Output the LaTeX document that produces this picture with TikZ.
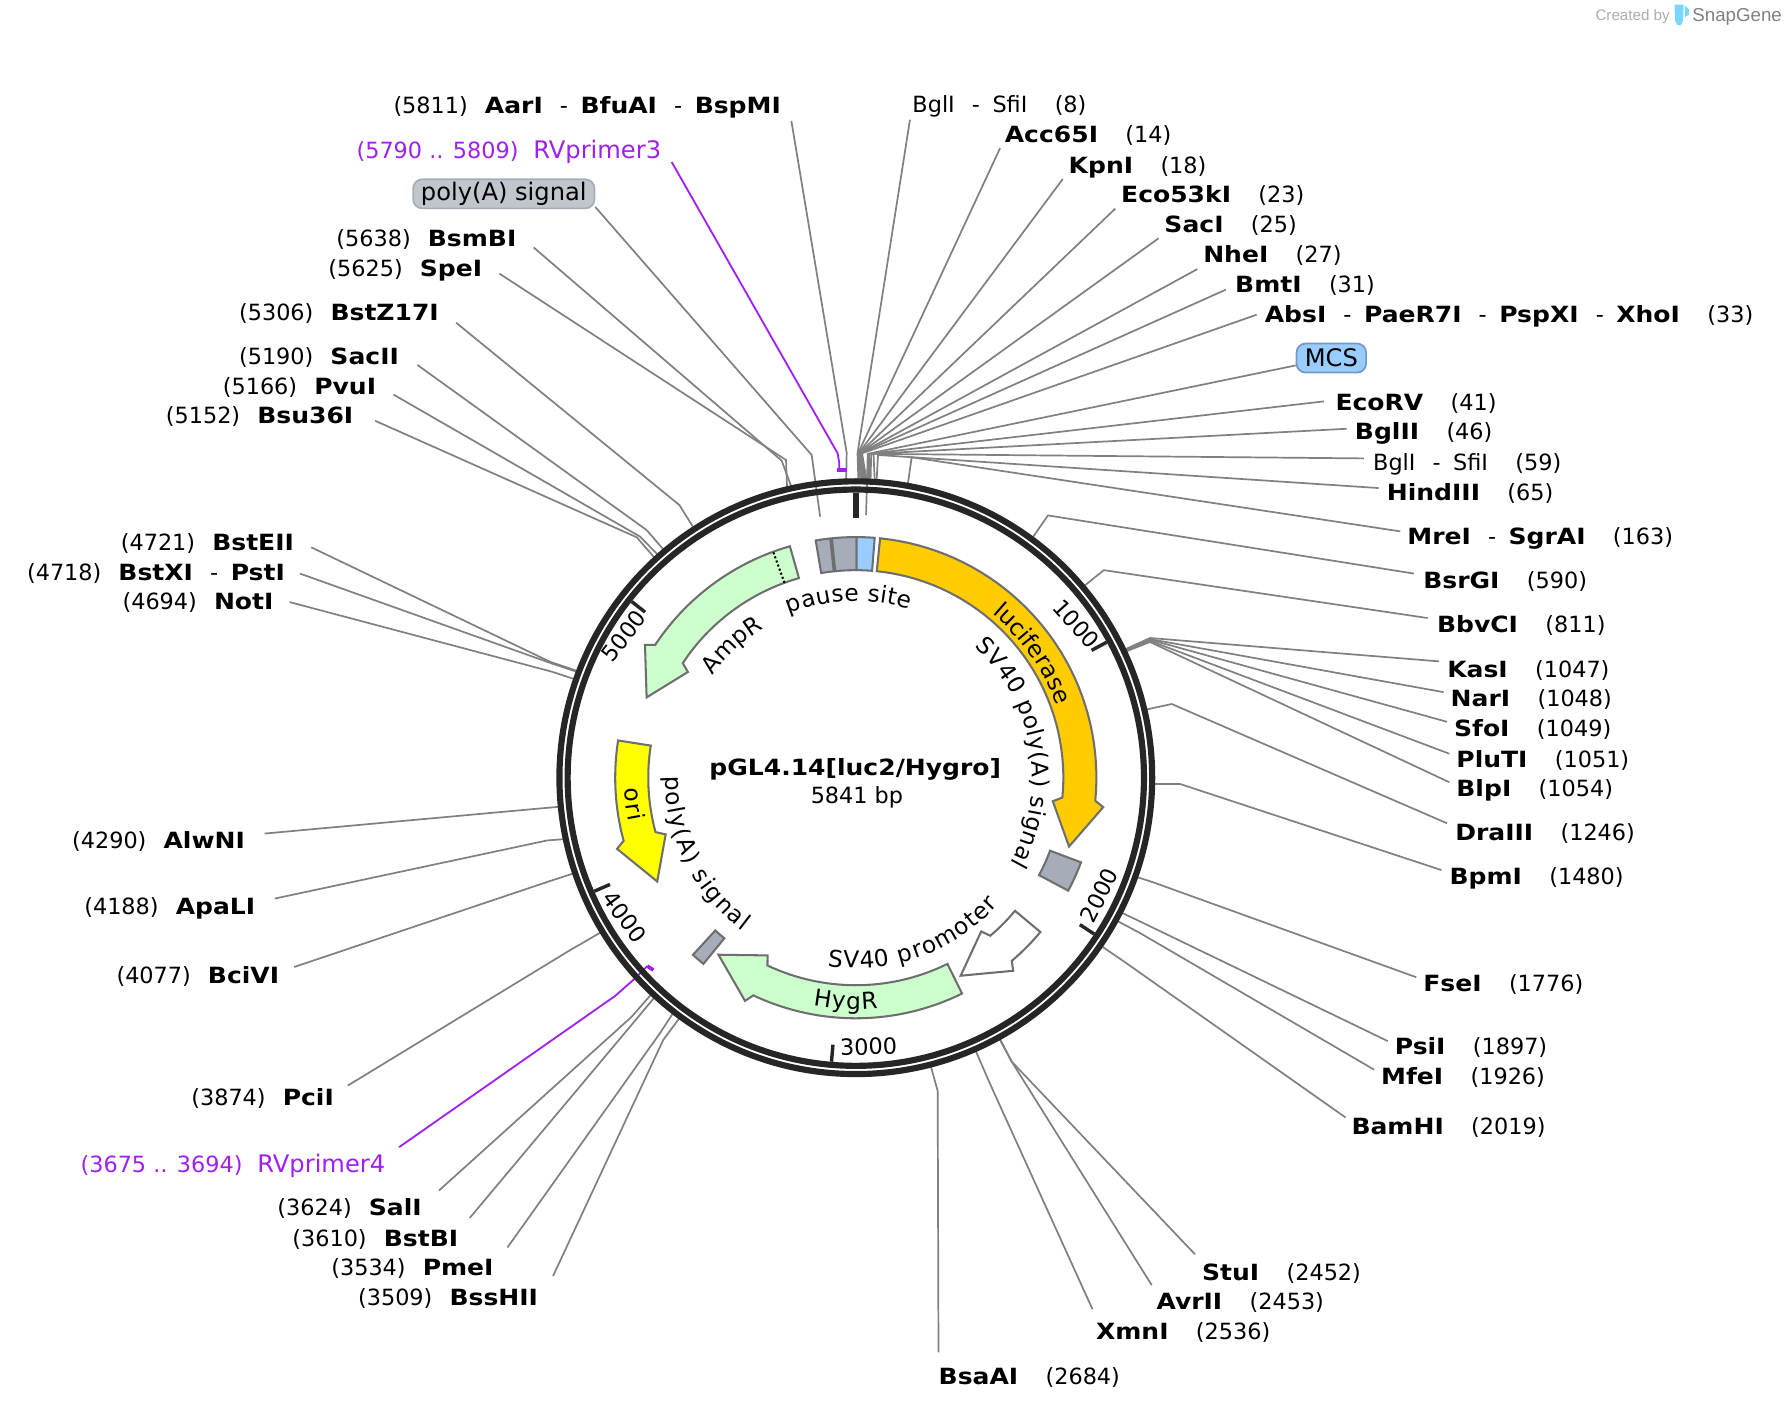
\documentclass[tikz,border=0pt]{standalone}
\usepackage{fontspec}
\setmainfont{DejaVu Sans}[BoldFeatures={FakeStretch=1.12}]
\newfontfamily\logofont{Liberation Sans}
\usetikzlibrary{decorations.text}

\definecolor{ringdark}{HTML}{262626}
\definecolor{linegray}{HTML}{808080}
\definecolor{primerpurple}{HTML}{A020F0}
\definecolor{featstroke}{HTML}{6E6E6E}
\definecolor{greyfeat}{HTML}{A6ADB8}
\definecolor{bluefeat}{HTML}{99CCFF}
\definecolor{orangefeat}{HTML}{FFCC00}
\definecolor{greenfeat}{HTML}{CCFFCC}
\definecolor{yellowfeat}{HTML}{FFFF00}

\newcommand{\sitefont}{\fontsize{19.6}{23}\selectfont}
\newcommand{\featfont}{\fontsize{21.2}{24}\selectfont}
\newcommand{\arcfont}{\fontsize{20.4}{24}\selectfont}
\newcommand{\lsite}[2]{(#1)\hspace{15pt}\textbf{#2}}
\newcommand{\rsite}[2]{\textbf{#1}\hspace{24pt}(#2)}
\newcommand{\dsh}{\hspace{15pt}-\hspace{11pt}}

\tikzset{
    siter/.style={anchor=base west, inner sep=0pt, font=\sitefont, yshift=-0.8pt},
    sitel/.style={anchor=base east, inner sep=0pt, font=\sitefont, yshift=-0.8pt},
    cutline/.style={draw=linegray, line width=1.5pt},
    primerline/.style={draw=primerpurple, line width=1.6pt},
    pill/.style={rounded corners=8pt, line width=1.5pt, inner sep=0pt, minimum height=25.5pt, font=\featfont},
    feat/.style={draw=featstroke, line width=1.8pt, line join=miter},
    tickmark/.style={draw=ringdark, line width=3pt},
    ticklabel/.style={inner sep=0pt, font=\sitefont},
}

% line from a label over its elbow to the ring, last argument is the bp position
\newcommand{\cutsite}[4]{%
    \pgfmathsetmacro{\cutang}{#4/5841*360-90}
    \coordinate (#1-e) at (#3);
    \coordinate (#1-r) at ([shift={(750.5,682)}]\cutang:262);
    \draw[cutline] (#2) -- (#1-e) -- (#1-r);
}
% arrow shaped feature: colour, tail, neck, barb, tip (degrees from the top)
\newcommand{\featarrow}[5]{%
    \draw[feat, fill=#1] plot[domain=#2:#3, samples=40] ({\x-90}:211) -- ({#4-90}:218.5)
        -- ({#5-90}:196.5) -- ({#4-90}:174) -- ({#3-90}:182)
        -- plot[domain=#3:#2, samples=40] ({\x-90}:182) -- cycle;
}
\newcommand{\featbox}[3]{%
    \draw[feat, fill=#1] plot[domain=#2:#3, samples=12] ({\x-90}:211)
        -- plot[domain=#3:#2, samples=12] ({\x-90}:182) -- cycle;
}
% names along the arcs, centred on the path or spread over it
\newcommand{\arclabel}[4]{%
    \path[decorate, decoration={text along path, text align=center, text={|\arcfont|#4}}]
        plot[domain=#2:#3, samples=70] ({\x-90}:#1);
}
\newcommand{\arcfit}[4]{%
    \path[decorate, decoration={text along path, text align=fit to path, text={|\arcfont|#4}}]
        plot[domain=#2:#3, samples=70] ({\x-90}:#1);
}

\begin{document}
\begin{tikzpicture}[x=1pt, y=-1pt]
    \useasboundingbox[fill=white] (0,0) rectangle (1568,1238.2);

    % labels on the right
    \node[siter] (bglia) at (800,98) {BglI\dsh SfiI\hspace{24pt}(8)};
    \node[siter] (acc) at (881,124) {\rsite{Acc65I}{14}};
    \node[siter] (kpn) at (937,151) {\rsite{KpnI}{18}};
    \node[siter] (ecofive) at (983,177) {\rsite{Eco53kI}{23}};
    \node[siter] (sac) at (1021,203) {\rsite{SacI}{25}};
    \node[siter] (nhe) at (1055,229) {\rsite{NheI}{27}};
    \node[siter] (bmt) at (1083,256) {\rsite{BmtI}{31}};
    \node[siter] (abs) at (1109,282) {\textbf{AbsI}\dsh\textbf{PaeR7I}\dsh\textbf{PspXI}\dsh\rsite{XhoI}{33}};
    \node[pill, draw=bluefeat!75!black, fill=bluefeat, minimum width=61pt] (mcs) at (1167.5,314) {MCS};
    \node[siter] (ecorv) at (1171,359) {\rsite{EcoRV}{41}};
    \node[siter] (bglii) at (1188,385) {\rsite{BglII}{46}};
    \node[siter] (bglib) at (1204,412) {BglI\dsh SfiI\hspace{24pt}(59)};
    \node[siter] (hind) at (1216,438) {\rsite{HindIII}{65}};
    \node[siter] (mre) at (1234,477) {\textbf{MreI}\dsh\rsite{SgrAI}{163}};
    \node[siter] (bsrg) at (1248,515) {\rsite{BsrGI}{590}};
    \node[siter] (bbvc) at (1260,554) {\rsite{BbvCI}{811}};
    \node[siter] (kas) at (1269,593) {\rsite{KasI}{1047}};
    \node[siter] (nar) at (1272,619) {\rsite{NarI}{1048}};
    \node[siter] (sfo) at (1275,645) {\rsite{SfoI}{1049}};
    \node[siter] (plut) at (1277,672) {\rsite{PluTI}{1051}};
    \node[siter] (blp) at (1277,698) {\rsite{BlpI}{1054}};
    \node[siter] (dra) at (1276,736) {\rsite{DraIII}{1246}};
    \node[siter] (bpm) at (1271,775) {\rsite{BpmI}{1480}};
    \node[siter] (fse) at (1248,869) {\rsite{FseI}{1776}};
    \node[siter] (psi) at (1223,924) {\rsite{PsiI}{1897}};
    \node[siter] (mfe) at (1211,950) {\rsite{MfeI}{1926}};
    \node[siter] (bamh) at (1185,994) {\rsite{BamHI}{2019}};
    \node[siter] (stu) at (1054,1122) {\rsite{StuI}{2452}};
    \node[siter] (avr) at (1014,1148) {\rsite{AvrII}{2453}};
    \node[siter] (xmn) at (961,1174) {\rsite{XmnI}{2536}};
    \node[siter] (bsaa) at (823,1213) {\rsite{BsaAI}{2684}};

    % labels on the left
    \node[sitel] (aar) at (685,99) {\lsite{5811}{AarI}\dsh\textbf{BfuAI}\dsh\textbf{BspMI}};
    \node[sitel, text=primerpurple] (rvthree) at (580,138) {(5790 .. 5809)\hspace{13pt}{\fontsize{21.2}{23}\selectfont RVprimer3}};
    \node[pill, draw=greyfeat, fill=greyfeat!70!white, minimum width=159pt] (polya) at (441.8,170) {\raisebox{-1.5pt}{poly(A) signal}};
    \node[sitel] (bsmb) at (453,215) {\lsite{5638}{BsmBI}};
    \node[sitel] (spe) at (423,242) {\lsite{5625}{SpeI}};
    \node[sitel] (bstz) at (385,280) {\lsite{5306}{BstZ17I}};
    \node[sitel] (sacii) at (350,319) {\lsite{5190}{SacII}};
    \node[sitel] (pvu) at (330,345) {\lsite{5166}{PvuI}};
    \node[sitel] (bsu) at (310,371) {\lsite{5152}{Bsu36I}};
    \node[sitel] (bste) at (258,482) {\lsite{4721}{BstEII}};
    \node[sitel] (bstx) at (250,508) {\lsite{4718}{BstXI}\dsh\textbf{PstI}};
    \node[sitel] (not) at (240,534) {\lsite{4694}{NotI}};
    \node[sitel] (alw) at (215,743) {\lsite{4290}{AlwNI}};
    \node[sitel] (apa) at (224,801) {\lsite{4188}{ApaLI}};
    \node[sitel] (bci) at (245,862) {\lsite{4077}{BciVI}};
    \node[sitel] (pci) at (293,969) {\lsite{3874}{PciI}};
    \node[sitel, text=primerpurple] (rvfour) at (338,1027) {(3675 .. 3694)\hspace{13pt}{\fontsize{21.2}{23}\selectfont RVprimer4}};
    \node[sitel] (sal) at (370,1065) {\lsite{3624}{SalI}};
    \node[sitel] (bstb) at (402,1092) {\lsite{3610}{BstBI}};
    \node[sitel] (pme) at (433,1118) {\lsite{3534}{PmeI}};
    \node[sitel] (bssh) at (472,1144) {\lsite{3509}{BssHII}};

    % connectors
    \cutsite{bglia}{[shift={(-2,6.2)}]bglia.base west}{752,397.5}{8}
    \cutsite{acc}{[shift={(-4,5.2)}]acc.base west}{752.5,397.5}{14}
    \cutsite{kpn}{[shift={(-5,5.2)}]kpn.base west}{753,397.5}{18}
    \cutsite{ecofive}{[shift={(-5,5.2)}]ecofive.base west}{753.5,397.5}{23}
    \cutsite{sac}{[shift={(-5,5.2)}]sac.base west}{754,397.5}{25}
    \cutsite{nhe}{[shift={(-5,6.2)}]nhe.base west}{754.5,397.5}{27}
    \cutsite{bmt}{[shift={(-8,-2.8)}]bmt.base west}{755,397.5}{31}
    \cutsite{abs}{[shift={(-7,-6.8)}]abs.base west}{756,397.5}{33}
    \cutsite{ecorv}{[shift={(-10,-7.8)}]ecorv.base west}{762,398}{41}
    \cutsite{bglii}{[shift={(-7,-9.8)}]bglii.base west}{764,398}{46}
    \cutsite{bglib}{[shift={(-8,-10.8)}]bglib.base west}{766,398}{59}
    \cutsite{hind}{[shift={(-7,-10.8)}]hind.base west}{770,399}{65}
    \cutsite{mre}{[shift={(-6,-11.8)}]mre.base west}{799.5,401}{163}
    \cutsite{bsrg}{[shift={(-8,-12.8)}]bsrg.base west}{919,452}{590}
    \cutsite{bbvc}{[shift={(-8,-12.8)}]bbvc.base west}{968,500}{811}
    \cutsite{kas}{[shift={(-7,-13.8)}]kas.base west}{1008.5,559.5}{1047}
    \cutsite{nar}{[shift={(-6,-12.8)}]nar.base west}{1008.5,560.5}{1048}
    \cutsite{sfo}{[shift={(-6,-12.8)}]sfo.base west}{1008.5,561}{1049}
    \cutsite{plut}{[shift={(-6,-11.8)}]plut.base west}{1008.5,562}{1051}
    \cutsite{blp}{[shift={(-6,-12.8)}]blp.base west}{1008.5,563}{1054}
    \cutsite{dra}{[shift={(-7,-14.8)}]dra.base west}{1027.6,617.4}{1246}
    \cutsite{bpm}{[shift={(-7,-12.8)}]bpm.base west}{1034.8,687.5}{1480}
    \cutsite{fse}{[shift={(-6,-12.8)}]fse.base west}{1012,774}{1776}
    \cutsite{psi}{[shift={(-6,-11.8)}]psi.base west}{1000,808.2}{1897}
    \cutsite{mfe}{[shift={(-6,-12.8)}]mfe.base west}{1000,818.4}{1926}
    \cutsite{bamh}{[shift={(-5,-14.8)}]bamh.base west}{985,842.7}{2019}
    \cutsite{stu}{[shift={(-6,-22.8)}]stu.base west}{887.2,931}{2452}
    \cutsite{avr}{[shift={(-4,-21.8)}]avr.base west}{887.2,931}{2453}
    \cutsite{xmn}{[shift={(-3,-26.8)}]xmn.base west}{868,950}{2536}
    \cutsite{bsaa}{[shift={(0,-27.8)}]bsaa.base west}{822.3,956.8}{2684}

    \cutsite{aar}{[shift={(9,6.2)}]aar.base east}{742.5,397}{5811}
    \cutsite{bsmb}{[shift={(15,1.2)}]bsmb.base east}{685.5,404}{5638}
    \cutsite{spe}{[shift={(15,-2.8)}]spe.base east}{689.3,403.4}{5625}
    \cutsite{bstz}{[shift={(15,2.2)}]bstz.base east}{595.8,442.9}{5306}
    \cutsite{sacii}{[shift={(16,0.2)}]sacii.base east}{567,464.8}{5190}
    \cutsite{pvu}{[shift={(15,0.2)}]pvu.base east}{561.3,470.6}{5166}
    \cutsite{bsu}{[shift={(19,-2.8)}]bsu.base east}{558.4,471.2}{5152}
    \cutsite{bste}{[shift={(15,-2.8)}]bste.base east}{482.3,580.3}{4721}
    \cutsite{bstx}{[shift={(13,-5.8)}]bstx.base east}{485.2,582.3}{4718}
    \cutsite{not}{[shift={(14,-6.8)}]not.base east}{483.8,589}{4694}
    \cutsite{alw}{[shift={(17,-12.8)}]alw.base east}{470,709.3}{4290}
    \cutsite{apa}{[shift={(17,-13.8)}]apa.base east}{480,737}{4188}
    \cutsite{bci}{[shift={(13,-14.8)}]bci.base east}{480,773.4}{4077}
    \cutsite{pci}{[shift={(12,-17.8)}]pci.base east}{500,833.2}{3874}
    \cutsite{sal}{[shift={(15,-21.8)}]sal.base east}{554,891.6}{3624}
    \cutsite{bstb}{[shift={(10,-24.8)}]bstb.base east}{557,895}{3610}
    \cutsite{pme}{[shift={(12,-24.8)}]pme.base east}{578.8,906}{3534}
    \cutsite{bssh}{[shift={(13,-25.8)}]bssh.base east}{581.6,912}{3509}

    % lines that run on to a feature
    \coordinate (polya-e) at (711.8,399);
    \coordinate (polya-r) at (719.2,453);
    \draw[cutline] (polya.south east) ++(0,-2) -- (polya-e) -- (polya-r);
    \coordinate (mcs-e) at (761,398);
    \coordinate (mcs-r) at (759.5,451.7);
    \draw[cutline] (mcs) -- (mcs-e) -- (mcs-r);

    % primers
    \coordinate (rvthree-e) at (734.6,397.6);
    \coordinate (rvthree-f) at (736,406.3);
    \coordinate (rvthree-a) at (734,412.2);
    \coordinate (rvthree-b) at (743,412.2);
    \draw[primerline] ([shift={(9,3.2)}]rvthree.base east) -- (rvthree-e) -- (rvthree-f) -- (736,412.2);
    \draw[primerline, line width=3.2pt] (rvthree-a) -- (rvthree-b);
    \coordinate (rvfour-e) at (539.3,873.5);
    \coordinate (rvfour-f) at (556,858.8);
    \coordinate (rvfour-g) at (567.7,847.2);
    \coordinate (rvfour-b) at (573,850.7);
    \draw[primerline] ([shift={(12,-21.8)}]rvfour.base east) -- (rvfour-e) -- (rvfour-f) -- (rvfour-g);
    \draw[primerline, line width=3.2pt] (rvfour-g) -- (rvfour-b);

    \begin{scope}[shift={(750.5,682)}]
        % the ring, the gap stays open
        \draw[ringdark, line width=5.4pt] (0,0) circle[radius=259.9pt];
        \draw[ringdark, line width=5.4pt] (0,0) circle[radius=252.7pt];

        \draw[tickmark, line width=5.4pt] (-90:250) -- (-90:228);
        \foreach \tk in {1000,2000,3000,4000,5000}
            \draw[tickmark] ({\tk/5841*360-90}:250) -- ({\tk/5841*360-90}:235);

        % features
        \featarrow{orangefeat}{5.8}{95.5}{96.8}{107.9}
        \featarrow{greenfeat}{-15.9}{-56.5}{-57.8}{-69}
        \featarrow{yellowfeat}{-81.1}{-105.2}{-106.6}{-117.6}
        \featarrow{white}{129.9}{139.6}{140.8}{152.1}
        \featarrow{greenfeat}{153.8}{205.2}{206.4}{217.8}
        \featbox{greyfeat}{-9.6}{-6.1}
        \featbox{greyfeat}{-5.7}{0.2}
        \featbox{bluefeat}{0.2}{4.5}
        \featbox{greyfeat}{110.6}{118}
        \featbox{greyfeat}{219.3}{222.6}
        \draw[black, line width=1.8pt, dotted] (-110.1:182) -- (-110.1:211);

        % names along the arcs
        \arclabel{187}{25}{85}{luciferase}
        \arcfit{155}{42.3}{119}{SV40 poly(A) signal}
        \arclabel{154}{-73}{-13}{AmpR}
        \arcfit{155}{-22.2}{17.6}{pause site}
        \arcfit{203}{-92.6}{-100.9}{ori}
        \arcfit{167}{-89.7}{-143.6}{poly(A) signal}
        \arcfit{167}{188.6}{131.8}{SV40 promoter}
        \arcfit{203}{190.6}{174.5}{HygR}
    \end{scope}

    % position numbers of the ring
    \node[ticklabel, rotate=-48] (tka) at (944,547) {1000};
    \node[ticklabel, rotate=63] (tkb) at (964,785) {2000};
    \node[ticklabel, rotate=2] (tkc) at (761.7,918) {3000};
    \node[ticklabel, rotate=-53.5] (tkd) at (548,804) {4000};
    \node[ticklabel, rotate=52] (tke) at (547,557.7) {5000};

    \node[inner sep=0pt, font=\sitefont\bfseries] (title) at (750,674.5) {pGL4.14[luc2/Hygro]};
    \node[inner sep=0pt, font=\sitefont] (size) at (751.5,699) {5841 bp};

    % logo in the corner
    \fill[bluefeat!80!cyan] (1468.5,4) -- (1476.5,4) -- (1476,18) -- (1474,22) -- (1471,22) -- (1469,18) -- cycle;
    \fill[bluefeat!80!cyan] (1477.5,5) -- (1481,8) -- (1481,13) -- (1477.5,15) -- cycle;
    \node[anchor=base west, inner sep=0pt, text=black!32, font=\logofont\fontsize{13.3}{15}\selectfont] (created) at (1399,18) {Created by};
    \node[anchor=base west, inner sep=0pt, text=black!50, font=\logofont\fontsize{16.4}{18}\selectfont] (snap) at (1484,19) {SnapGene};
\end{tikzpicture}
\end{document}
